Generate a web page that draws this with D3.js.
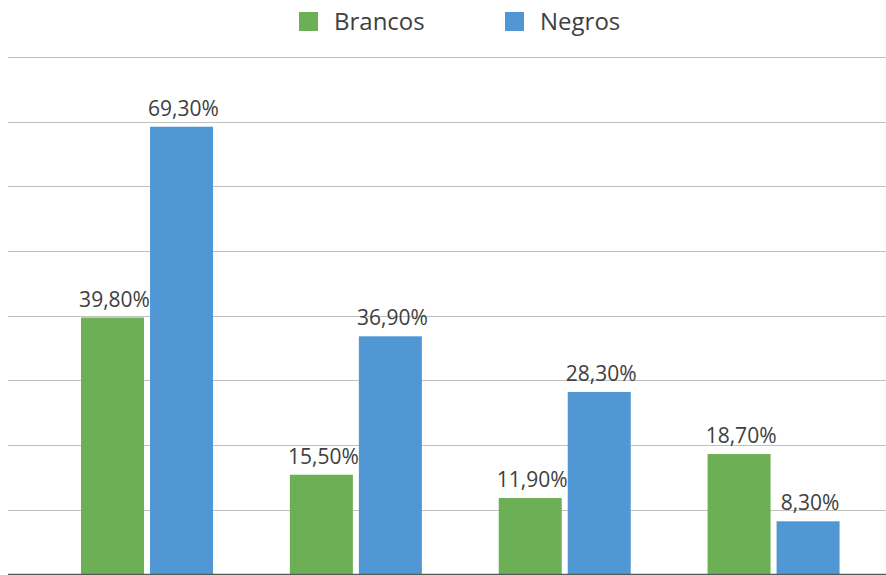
<!DOCTYPE html>
<html>
<head>
<meta charset="utf-8">
<script src="https://cdn.jsdelivr.net/npm/d3@7"></script>
<style>
  body { margin: 0; background: #fff; }
  text { font-family: "Open Sans", "Noto Sans", sans-serif; fill: #404040; }
</style>
</head>
<body>
<div id="chart"></div>
<script>
var categories = ["A", "B", "C", "D"];
var series = ["Brancos", "Negros"];
var brancos = [39.8, 15.5, 11.9, 18.7];
var negros = [69.3, 36.9, 28.3, 8.3];
var ticks = [0, 10, 20, 30, 40, 50, 60, 70, 80];

var width = 886, height = 575;
var margin = {top: 57, right: 0, bottom: 1, left: 8};

var color = d3.scaleOrdinal().domain(series).range(["#6daf55", "#5097d3"]);

var svg = d3.select("#chart").append("svg")
    .attr("width", width)
    .attr("height", height);

var y = d3.scaleLinear()
    .domain([0, 80])
    .range([575, 57.5]);

var x0 = d3.scaleBand()
    .domain(categories)
    .range([42.6, 878])
    .paddingInner(0)
    .paddingOuter(0);

var x1 = d3.scaleBand()
    .domain(series)
    .range([0, 132])
    .paddingInner(6 / 69);

// gridlines
svg.append("g").selectAll("line")
    .data(ticks.slice(1))
    .enter().append("line")
    .attr("x1", margin.left)
    .attr("x2", width)
    .attr("y1", function(d) { return Math.floor(y(d)) + 0.5; })
    .attr("y2", function(d) { return Math.floor(y(d)) + 0.5; })
    .style("stroke", "#c0c0c0")
    .style("stroke-width", 1);

var rows = categories.map(function(c, i) {
  return [{cat: c, s: "Brancos", v: brancos[i]}, {cat: c, s: "Negros", v: negros[i]}];
});

var groups = svg.append("g").selectAll("g")
    .data(rows)
    .enter().append("g")
    .attr("transform", function(d) {
      return "translate(" + (x0(d[0].cat) + (x0.bandwidth() - 132) / 2) + ",0)";
    });

groups.selectAll("rect")
    .data(function(d) { return d; })
    .enter().append("rect")
    .attr("x", function(d) { return x1(d.s); })
    .attr("y", function(d) { return y(d.v); })
    .attr("width", x1.bandwidth())
    .attr("height", function(d) { return y(0) - y(d.v); })
    .style("fill", function(d) { return color(d.s); });

groups.selectAll("text")
    .data(function(d) { return d; })
    .enter().append("text")
    .attr("x", function(d) { return x1(d.s) + x1.bandwidth() / 2 + 2; })
    .attr("y", function(d) { return y(d.v) - 11; })
    .attr("text-anchor", "middle")
    .style("font-size", "21px")
    .text(function(d) { return d.v.toFixed(2).replace(".", ",") + "%"; });

// baseline
svg.append("line")
    .attr("x1", margin.left).attr("x2", width)
    .attr("y1", 574.5).attr("y2", 574.5)
    .style("stroke", "#595959")
    .style("stroke-width", 1.5);

// legend
var legendX = [299, 505];
var legend = svg.append("g").selectAll("g")
    .data(series)
    .enter().append("g")
    .attr("transform", function(d, i) { return "translate(" + legendX[i] + ",12)"; });

legend.append("rect")
    .attr("width", 19).attr("height", 19)
    .style("fill", function(d) { return color(d); });

legend.append("text")
    .attr("x", 35).attr("y", 18)
    .style("font-size", "24px")
    .text(function(d) { return d; });
</script>
</body>
</html>
